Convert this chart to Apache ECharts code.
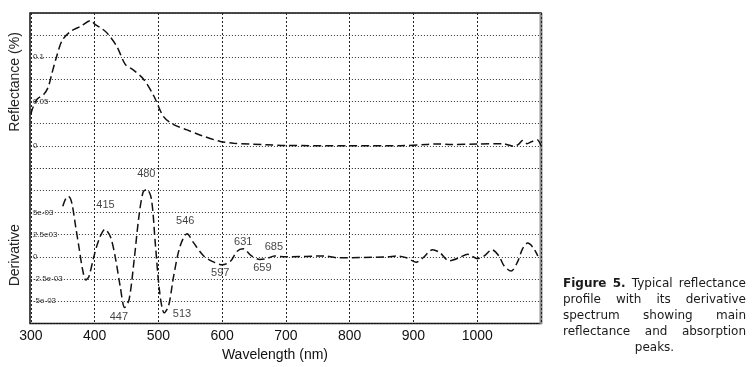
<!DOCTYPE html>
<html>
<head>
<meta charset="utf-8">
<script src="https://cdn.jsdelivr.net/npm/echarts@6/dist/echarts.min.js"></script>
<style>
  html, body { margin: 0; padding: 0; background: #fff; }
  #chart { width: 753px; height: 367px; }
</style>
</head>
<body>
<div id="chart"></div>
<script>
// wavelength axis
var xMin = 300, xMax = 1100, xStep = 100;

// reflectance profile (upper panel)
var reflNm  = [300, 303, 310, 320, 327, 333, 340, 349, 362, 378, 394, 400, 412, 420, 435, 448, 460, 477, 493, 508, 524, 545, 566, 597, 618, 670, 700, 800, 880, 920, 935, 960, 1000, 1040, 1058, 1065, 1071, 1078, 1086, 1094, 1100];
var reflVal = [0.036, 0.043, 0.053, 0.058, 0.066, 0.082, 0.1, 0.119, 0.129, 0.135, 0.1415, 0.1375, 0.132, 0.127, 0.112, 0.092, 0.086, 0.075, 0.056, 0.033, 0.024, 0.018, 0.012, 0.005, 0.003, 0.0012, 0.0005, 0, 0.0002, 0.0015, 0.0022, 0.0015, 0.002, 0.0025, -0.0005, 0.002, 0.006, 0.0025, 0.005, 0.0068, 0];

// derivative spectrum (lower panel)
var derivNm  = [350, 355, 359, 364, 370, 376, 381, 386, 391, 399, 407, 416, 425, 433, 440, 447, 454, 462, 469, 476, 482, 489, 495, 502, 509, 516, 524, 534, 545, 555, 571, 587, 600, 613, 623, 633, 646, 659, 670, 682, 700, 760, 780, 860, 873, 889, 904, 915, 930, 941, 956, 972, 985, 1000, 1011, 1023, 1034, 1042, 1053, 1063, 1071, 1079, 1087, 1095];
var derivVal = [0.0057, 0.0066, 0.0068, 0.0061, 0.0035, 0.0008, -0.0014, -0.0026, -0.0022, 0.0001, 0.002, 0.0031, 0.0022, -0.0003, -0.0033, -0.0057, -0.0048, -0.0003, 0.0043, 0.0073, 0.0076, 0.0065, 0.0016, -0.004, -0.0063, -0.0055, -0.0021, 0.0012, 0.0026, 0.0016, 0.0001, -0.0006, -0.0009, -0.0005, 0.0006, 0.0009, 0.0001, -0.0003, -0.0002, 0.0001, 0, 0.0001, -0.0001, 0, 0.0001, -0.0001, -0.0006, -0.0001, 0.0008, 0.0005, -0.00045, -0.0001, 0.0003, -0.0002, 0.0001, 0.0008, 0.0001, -0.001, -0.0016, -0.0006, 0.0009, 0.00155, 0.0011, 0.0001];

// peak annotations (text, placed at wavelength / value)
var peakText = ['480', '415', '546', '631', '685', '447', '513', '597', '659'];
var peakNm   = [481, 417, 542, 633, 681, 438, 537, 597, 663];
var peakVal  = [0.0093, 0.0058, 0.0040, 0.0017, 0.0011, -0.0068, -0.0064, -0.0018, -0.0013];

// tick labels drawn inside the frame
var reflTicks  = [0, 0.05, 0.1];
var reflLabels = ['0', '0.05', '0.1'];
var derivTicks  = [0.005, 0.0025, 0, -0.0025, -0.005];
var derivLabels = ['5e-03', '2.5e03', '0', '-2.5e-03', '-5e-03'];

var captionLines = [
  [['Figure', true], ['5.', true], ['Typical', false], ['reflectance', false]],
  [['profile'], ['with'], ['its'], ['derivative']],
  [['spectrum'], ['showing'], ['main']],
  [['reflectance'], ['and'], ['absorption']],
  [['peaks.']]
];

function zip(a, b) {
  var out = [];
  for (var i = 0; i < a.length; i++) out.push([a[i], b[i]]);
  return out;
}

function tickLabel(ticks, labels) {
  return function (v) {
    for (var i = 0; i < ticks.length; i++) {
      if (Math.abs(v - ticks[i]) < 1e-9) return labels[i];
    }
    return '';
  };
}

// justified caption, words measured with canvas
function buildCaption() {
  var ctx = document.createElement('canvas').getContext('2d');
  var left = 563, right = 746, y0 = 284, lh = 16;
  var els = [];
  captionLines.forEach(function (line, li) {
    var fonts = line.map(function (w) {
      return (w[1] ? 'bold ' : '') + '12px "DejaVu Sans"';
    });
    var widths = line.map(function (w, i) {
      ctx.font = fonts[i];
      return ctx.measureText(w[0]).width;
    });
    var total = widths.reduce(function (s, v) { return s + v; }, 0);
    var x, gap;
    if (li === captionLines.length - 1) {
      x = (left + right) / 2 - total / 2;
      gap = 0;
    } else {
      x = left;
      gap = (right - left - total) / (line.length - 1);
    }
    line.forEach(function (w, i) {
      els.push({
        type: 'text',
        x: x,
        y: y0 + li * lh,
        style: {
          text: w[0],
          font: fonts[i],
          fill: '#1a1a1a',
          textVerticalAlign: 'middle'
        }
      });
      x += widths[i] + gap;
    });
  });
  return els;
}

var chart = echarts.init(document.getElementById('chart'));

var dotted = { type: [1, 2], color: '#333', width: 1 };
var vDotted = { type: [2, 2], color: '#222', width: 1 };
var curve = { color: '#111', width: 1.5, type: [8, 4] };

var option = {
  animation: false,
  grid: [
    { left: 30, right: 212, top: 13, height: 155 },
    { left: 30, right: 212, top: 168, height: 155.5 },
    { left: 30, right: 212, top: 13, height: 310.5, show: true, borderColor: '#111', borderWidth: 1.5 }
  ],
  xAxis: [
    {
      gridIndex: 0, type: 'value', min: xMin, max: xMax, interval: xStep,
      axisLine: { show: false }, axisTick: { show: false }, axisLabel: { show: false },
      splitLine: { lineStyle: vDotted }
    },
    {
      gridIndex: 1, type: 'value', min: xMin, max: xMax, interval: xStep,
      axisLine: { show: false }, axisTick: { show: false },
      axisLabel: {
        margin: 6, fontSize: 14, color: '#111', fontFamily: 'Liberation Sans',
        formatter: function (v) { return v >= xMax ? '' : String(v); }
      },
      splitLine: { lineStyle: vDotted },
      name: 'Wavelength (nm)', nameLocation: 'middle', nameGap: 25,
      nameTextStyle: { fontSize: 14, color: '#111', fontFamily: 'Liberation Sans', padding: [0, 22, 0, 0] }
    },
    { gridIndex: 2, type: 'value', show: false, min: 0, max: 1 }
  ],
  yAxis: [
    {
      gridIndex: 0, type: 'value', min: -0.025, max: 0.15, interval: 0.025,
      axisLine: { show: false }, axisTick: { show: false },
      axisLabel: {
        inside: true, margin: 2, fontSize: 8, color: '#333', fontFamily: 'Liberation Sans',
        formatter: tickLabel(reflTicks, reflLabels)
      },
      splitLine: { lineStyle: dotted },
      name: 'Reflectance (%)', nameLocation: 'middle', nameGap: 7,
      nameTextStyle: { fontSize: 14, color: '#222', fontFamily: 'Liberation Sans', padding: [0, 0, 0, 17] }
    },
    {
      gridIndex: 1, type: 'value', min: -0.0075, max: 0.01, interval: 0.0025,
      axisLine: { show: false }, axisTick: { show: false },
      axisLabel: {
        inside: true, margin: 2, fontSize: 8, color: '#333', fontFamily: 'Liberation Sans',
        formatter: tickLabel(derivTicks, derivLabels)
      },
      splitLine: { lineStyle: dotted },
      name: 'Derivative', nameLocation: 'middle', nameGap: 7,
      nameTextStyle: { fontSize: 14, color: '#222', fontFamily: 'Liberation Sans', padding: [0, 19, 0, 0] }
    },
    { gridIndex: 2, type: 'value', show: false, min: 0, max: 1 }
  ],
  series: [
    {
      type: 'line', xAxisIndex: 0, yAxisIndex: 0, data: zip(reflNm, reflVal),
      smooth: 0.3, symbol: 'none', lineStyle: curve
    },
    {
      type: 'line', xAxisIndex: 1, yAxisIndex: 1, data: zip(derivNm, derivVal),
      smooth: 0.3, symbol: 'none', lineStyle: curve
    },
    {
      type: 'scatter', xAxisIndex: 1, yAxisIndex: 1, symbolSize: 0, silent: true,
      data: peakNm.map(function (n, i) { return { name: peakText[i], value: [n, peakVal[i]] }; }),
      label: {
        show: true, position: 'inside', formatter: '{b}',
        fontSize: 11, color: '#111', fontFamily: 'Liberation Sans'
      }
    }
  ],
  graphic: [
    { type: 'rect', x: 539.5, y: 13, shape: { width: 3, height: 311 }, style: { fill: '#8c8c8c' } }
  ].concat(buildCaption())
};

chart.setOption(option);
</script>
</body>
</html>
